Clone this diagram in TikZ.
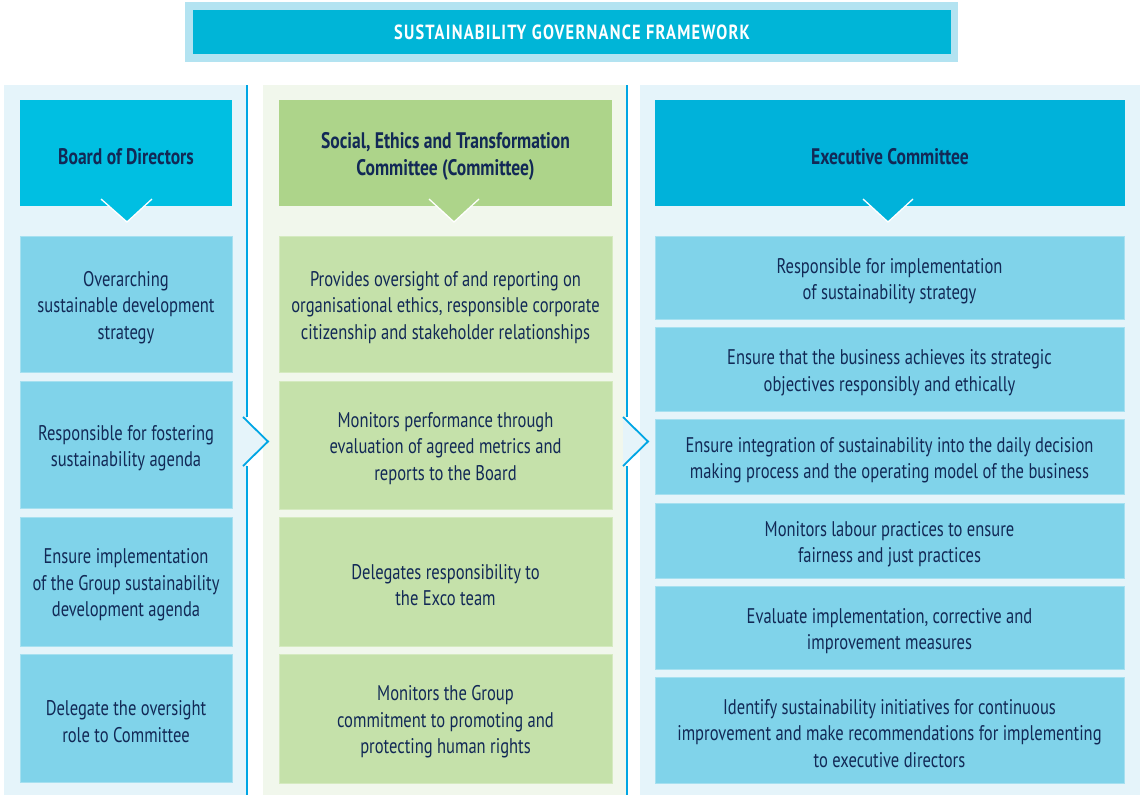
\documentclass[tikz,border=0pt]{standalone}
\usepackage{fontspec}
\setmainfont{PT Sans}[FakeStretch=0.78]
\newfontfamily\titlefont{PT Sans}[FakeStretch=0.8,LetterSpace=6]
\definecolor{titleouter}{HTML}{B3E3F1}
\definecolor{titleinner}{HTML}{00B5D7}
\definecolor{leftbg}{HTML}{E5F4FA}
\definecolor{midbg}{HTML}{F1F7EC}
\definecolor{rightbg}{HTML}{E5F4FA}
\definecolor{hdrleft}{HTML}{00BFE2}
\definecolor{hdrmid}{HTML}{ADD48A}
\definecolor{hdrright}{HTML}{00B2DA}
\definecolor{bluebox}{HTML}{80D3EA}
\definecolor{blueedge}{HTML}{A6E0F0}
\definecolor{greenbox}{HTML}{C5E1AA}
\definecolor{greenedge}{HTML}{D5EAC0}
\definecolor{navy}{HTML}{122956}
\definecolor{sepblue}{HTML}{00A6E4}
\tikzset{
  txtbase/.style={inner sep=0pt, align=center, text=navy, font=\fontsize{21.2}{26.5}\selectfont, yshift=-3.5pt},
  hdrtxt/.style={txtbase, font=\bfseries\fontsize{22.5}{27}\selectfont},
  cellbase/.style={inner sep=0pt},
  bluecell/.style={cellbase, fill=bluebox, draw=blueedge, line width=0.8pt},
  greencell/.style={cellbase, fill=greenbox, draw=greenedge, line width=0.8pt},
  hdrcell/.style={cellbase, minimum height=106pt},
  sepline/.style={draw=sepblue, line width=1.8pt},
  notchline/.style={draw=white, line width=1.3pt}
}
\begin{document}
\begin{tikzpicture}[x=1pt,y=-1pt]
\useasboundingbox (0,0) rectangle (1143,795);
% title
\fill[titleouter] (185,2) rectangle (958,62);
\node[fill=titleinner, minimum width=758pt, minimum height=44pt, inner sep=0pt, text=white,
  font=\titlefont\bfseries\fontsize{20.5}{22}\selectfont] (title) at (572,32) {SUSTAINABILITY GOVERNANCE FRAMEWORK};
% panels
\fill[leftbg] (4,85) rectangle (247,795);
\fill[midbg] (263,85) rectangle (626,795);
\fill[rightbg] (640,85) rectangle (1140,795);
% separators with chevrons
\coordinate (s1top) at (247,85);
\coordinate (s1a) at (247,417);
\coordinate (s1b) at (247,466);
\coordinate (s1bot) at (247,795);
\coordinate (c1a) at (243,417);
\coordinate (c1tip) at (268,441.5);
\coordinate (c1b) at (243,466);
\fill[leftbg] (c1a) -- (c1tip) -- (c1b) -- cycle;
\draw[sepline] (s1top) -- (s1a);
\draw[sepline] (s1b) -- (s1bot);
\draw[sepline] (c1a) -- (c1tip) -- (c1b);
\coordinate (s2top) at (627,85);
\coordinate (s2a) at (627,417);
\coordinate (s2b) at (627,466);
\coordinate (s2bot) at (627,795);
\coordinate (c2a) at (623,417);
\coordinate (c2tip) at (648,441.5);
\coordinate (c2b) at (623,466);
\fill[rightbg] (c2a) -- (c2tip) -- (c2b) -- cycle;
\draw[sepline] (s2top) -- (s2a);
\draw[sepline] (s2b) -- (s2bot);
\draw[sepline] (c2a) -- (c2tip) -- (c2b);
% headers
\node[hdrcell, fill=hdrleft, minimum width=212pt] (bod) at (126,153) {};
\node[hdrtxt] (bodt) at (bod.center) {Board of Directors};
\fill[hdrleft] (101,199) -- (127,222) -- (152,199) -- cycle;
\draw[notchline] (101,199) -- (127,222) -- (152,199);
\node[hdrcell, fill=hdrmid, minimum width=333pt] (set) at (445.5,153) {};
\node[hdrtxt] (sett) at (set.center) {Social, Ethics and Transformation\\Committee (Committee)};
\fill[hdrmid] (429,199) -- (454,222) -- (479,199) -- cycle;
\draw[notchline] (429,199) -- (454,222) -- (479,199);
\node[hdrcell, fill=hdrright, minimum width=470pt] (exco) at (890,153) {};
\node[hdrtxt] (excot) at (exco.center) {Executive Committee};
\fill[hdrright] (863,199) -- (888,222) -- (913,199) -- cycle;
\draw[notchline] (863,199) -- (888,222) -- (913,199);
% left column
\node[bluecell, minimum width=212pt, minimum height=136pt] (l1) at (126,304) {};
\node[txtbase] (l1t) at (l1.center) {Overarching\\sustainable development\\strategy};
\node[bluecell, minimum width=212pt, minimum height=127pt] (l2) at (126,444.5) {};
\node[txtbase] (l2t) at (l2.center) {Responsible for fostering\\sustainability agenda};
\node[bluecell, minimum width=212pt, minimum height=129pt] (l3) at (126,581.5) {};
\node[txtbase] (l3t) at (l3.center) {Ensure implementation\\of the Group sustainability\\development agenda};
\node[bluecell, minimum width=212pt, minimum height=128pt] (l4) at (126,718) {};
\node[txtbase] (l4t) at (l4.center) {Delegate the oversight\\role to Committee};
% middle column
\node[greencell, minimum width=333pt, minimum height=136pt] (m1) at (445.5,304) {};
\node[txtbase] (m1t) at (m1.center) {Provides oversight of and reporting on\\organisational ethics, responsible corporate\\citizenship and stakeholder relationships};
\node[greencell, minimum width=333pt, minimum height=128pt] (m2) at (445.5,445) {};
\node[txtbase] (m2t) at (m2.center) {Monitors performance through\\evaluation of agreed metrics and\\reports to the Board};
\node[greencell, minimum width=333pt, minimum height=129pt] (m3) at (445.5,581.5) {};
\node[txtbase] (m3t) at (m3.center) {Delegates responsibility to\\the Exco team};
\node[greencell, minimum width=333pt, minimum height=129pt] (m4) at (445.5,718.5) {};
\node[txtbase] (m4t) at (m4.center) {Monitors the Group\\commitment to promoting and\\protecting human rights};
% right column
\node[bluecell, minimum width=469pt, minimum height=83pt] (r1) at (889.5,277.5) {};
\node[txtbase] (r1t) at (r1.center) {Responsible for implementation\\of sustainability strategy};
\node[bluecell, minimum width=469pt, minimum height=84pt] (r2) at (889.5,369) {};
\node[txtbase] (r2t) at (r2.center) {Ensure that the business achieves its strategic\\objectives responsibly and ethically};
\node[bluecell, minimum width=469pt, minimum height=75pt] (r3) at (889.5,456.5) {};
\node[txtbase] (r3t) at (r3.center) {Ensure integration of sustainability into the daily decision\\making process and the operating model of the business};
\node[bluecell, minimum width=469pt, minimum height=75pt] (r4) at (889.5,540.5) {};
\node[txtbase] (r4t) at (r4.center) {Monitors labour practices to ensure\\fairness and just practices};
\node[bluecell, minimum width=469pt, minimum height=83pt] (r5) at (889.5,627.5) {};
\node[txtbase] (r5t) at (r5.center) {Evaluate implementation, corrective and\\improvement measures};
\node[bluecell, minimum width=469pt, minimum height=106pt] (r6) at (889.5,730) {};
\node[txtbase] (r6t) at (r6.center) {Identify sustainability initiatives for continuous\\improvement and make recommendations for implementing\\to executive directors};
\end{tikzpicture}
\end{document}
